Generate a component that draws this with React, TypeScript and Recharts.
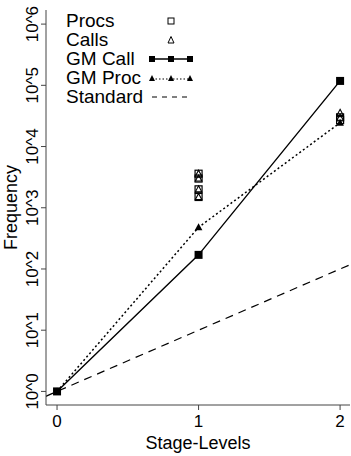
import React from 'react';
import { ComposedChart, Line, Scatter, XAxis, YAxis } from 'recharts';

const stageTicks = [0, 1, 2];
const freqTicks = [1, 10, 100, 1000, 10000, 100000, 1000000];

const procs = [
  { x: 1, y: 3600 },
  { x: 1, y: 3000 },
  { x: 1, y: 2000 },
  { x: 1, y: 1500 },
  { x: 2, y: 30000 },
  { x: 2, y: 27000 },
];

const calls = [
  { x: 1, y: 3600 },
  { x: 1, y: 3000 },
  { x: 1, y: 2000 },
  { x: 1, y: 1500 },
  { x: 2, y: 35500 },
  { x: 2, y: 29500 },
];

const gmCall = [
  { x: 0, y: 1 },
  { x: 1, y: 170 },
  { x: 2, y: 118000 },
];

const gmProc = [
  { x: 0, y: 1 },
  { x: 1, y: 480 },
  { x: 2, y: 24500 },
];

const standard = [
  { x: -0.08, y: 0.83 },
  { x: 0, y: 1 },
  { x: 1, y: 10 },
  { x: 2, y: 100 },
  { x: 2.07, y: 117 },
];

const FONT = '"Liberation Sans", Arial, Helvetica, sans-serif';

const OpenSquare = (p: any) => (
  <rect x={p.cx - 3.5} y={p.cy - 3.5} width={7} height={7} fill="none" stroke="#000" strokeWidth={1.2} />
);

const OpenTriangle = (p: any) => (
  <path d={`M${p.cx},${p.cy - 3.5}L${p.cx + 3.2},${p.cy + 2.5}L${p.cx - 3.2},${p.cy + 2.5}Z`} fill="none" stroke="#000" strokeWidth={1.1} />
);

const FilledSquare = (p: any) => (
  <rect key={`sq-${p.index}`} x={p.cx - 4} y={p.cy - 4} width={8} height={8} fill="#000" />
);

const FilledTriangle = (p: any) => (
  <path key={`tr-${p.index}`} d={`M${p.cx},${p.cy - 4}L${p.cx + 3.8},${p.cy + 3}L${p.cx - 3.8},${p.cy + 3}Z`} fill="#000" />
);

const YTick = (p: any) => {
  const v = Math.round(Math.log10(p.payload.value));
  const x = p.x - 1;
  return (
    <text x={x} y={p.y} transform={`rotate(-90, ${x}, ${p.y})`} textAnchor="middle" fontSize={17} fontFamily={FONT} fill="#000">
      {`10^${v}`}
    </text>
  );
};

const legendRows = [
  { name: 'Procs', kind: 'openSquare' },
  { name: 'Calls', kind: 'openTriangle' },
  { name: 'GM Call', kind: 'gmCall' },
  { name: 'GM Proc', kind: 'gmProc' },
  { name: 'Standard', kind: 'standard' },
];

const LegendIcon = ({ kind }: { kind: string }) => {
  const xs = [6, 25, 44];
  return (
    <svg width={52} height={14} style={{ display: 'block' }}>
      {kind === 'openSquare' && <rect x={22} y={4} width={6} height={6} fill="none" stroke="#000" strokeWidth={1} />}
      {kind === 'openTriangle' && <path d="M25,3.5L28,10L22,10Z" fill="none" stroke="#000" strokeWidth={1} />}
      {kind === 'gmCall' && (
        <g>
          <line x1={6} y1={7} x2={44} y2={7} stroke="#000" strokeWidth={1.3} />
          {xs.map((x) => <rect key={x} x={x - 3} y={4} width={6} height={6} fill="#000" />)}
        </g>
      )}
      {kind === 'gmProc' && (
        <g>
          <line x1={6} y1={8} x2={44} y2={8} stroke="#000" strokeWidth={1.2} strokeDasharray="1.5 2" />
          {xs.map((x) => <path key={x} d={`M${x},4L${x + 3},10L${x - 3},10Z`} fill="#000" />)}
        </g>
      )}
      {kind === 'standard' && <line x1={6} y1={7} x2={46} y2={7} stroke="#000" strokeWidth={1} strokeDasharray="5 5" />}
    </svg>
  );
};

const App: React.FC = () => {
  return (
    <div style={{ position: 'absolute', left: 0, top: 0, width: 351, height: 456, background: '#fff', fontFamily: FONT }}>
      <ComposedChart width={351} height={456} margin={{ top: 10, right: 1, bottom: 0, left: 0 }}>
        <XAxis
          xAxisId="main"
          dataKey="x"
          type="number"
          domain={[-0.078, 2.07]}
          allowDataOverflow
          ticks={stageTicks}
          height={51}
          tickSize={5}
          tickMargin={5}
          stroke="#444"
          tick={{ fontSize: 17, fill: '#000', fontFamily: FONT }}
          label={{ value: 'Stage-Levels', position: 'insideBottom', offset: 7, fontSize: 18, fill: '#000', fontFamily: FONT }}
        />
        <XAxis xAxisId="top" orientation="top" type="number" domain={[0, 1]} height={0} tick={false} tickLine={false} stroke="#222" />
        <YAxis
          yAxisId="main"
          scale="log"
          domain={[0.6, 1700000]}
          allowDataOverflow
          ticks={freqTicks}
          width={46}
          tickSize={5}
          stroke="#444"
          tick={<YTick />}
          label={{
            content: (p: any) => {
              const vb = p.viewBox;
              const cx = 17;
              const cy = vb.y + vb.height / 2;
              return (
                <text x={cx} y={cy} transform={`rotate(-90, ${cx}, ${cy})`} textAnchor="middle" fontSize={18} fontFamily={FONT} fill="#000">
                  Frequency
                </text>
              );
            },
          }}
        />
        <YAxis yAxisId="right" orientation="right" width={0} domain={[0, 1]} tick={false} tickLine={false} stroke="#ccc" />
        <Line xAxisId="main" yAxisId="main" data={standard} dataKey="y" stroke="#000" strokeWidth={1.2} strokeDasharray="8 6" dot={false} isAnimationActive={false} />
        <Line xAxisId="main" yAxisId="main" data={gmProc} dataKey="y" stroke="#000" strokeWidth={1.5} strokeDasharray="2 2.5" dot={<FilledTriangle />} isAnimationActive={false} />
        <Line xAxisId="main" yAxisId="main" data={gmCall} dataKey="y" stroke="#000" strokeWidth={1.4} dot={<FilledSquare />} isAnimationActive={false} />
        <Scatter xAxisId="main" yAxisId="main" data={procs} dataKey="y" shape={<OpenSquare />} isAnimationActive={false} />
        <Scatter xAxisId="main" yAxisId="main" data={calls} dataKey="y" shape={<OpenTriangle />} isAnimationActive={false} />
      </ComposedChart>
      <div style={{ position: 'absolute', left: 66, top: 11, fontSize: 19, lineHeight: '19px', color: '#000' }}>
        {legendRows.map((r) => (
          <div key={r.name} style={{ display: 'flex', alignItems: 'center', height: 19 }}>
            <span style={{ width: 80 }}>{r.name}</span>
            <LegendIcon kind={r.kind} />
          </div>
        ))}
      </div>
    </div>
  );
};

export default App;
